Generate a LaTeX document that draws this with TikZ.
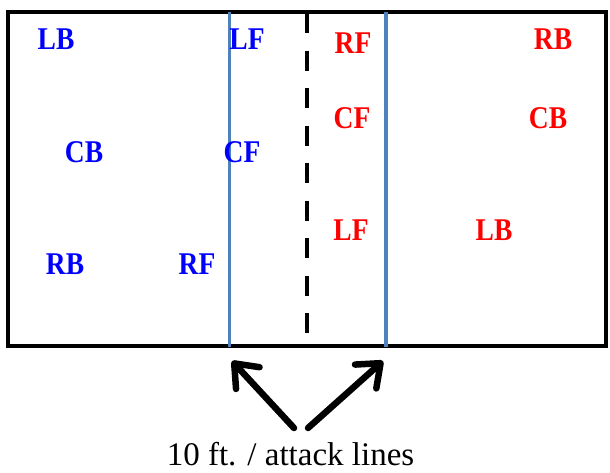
\documentclass[tikz,border=0pt]{standalone}
\usepackage{fontspec}
\setmainfont{Liberation Serif}
\usetikzlibrary{arrows.meta}
\definecolor{courtblue}{HTML}{4F81BD}
\definecolor{teamblue}{HTML}{0000FF}
\definecolor{teamred}{HTML}{FF0000}
\newcommand\poslbl[1]{\scalebox{1}[1.15]{#1}}
\tikzset{
  court/.style={line width=4pt, draw=black},
  attackline/.style={line width=3.5pt, draw=courtblue},
  netline/.style={line width=4.5pt, draw=black, dash pattern=on 20pt off 17.5pt},
  bluepos/.style={text=teamblue, inner sep=0pt, font=\bfseries\fontsize{27.5}{27.5}\selectfont},
  redpos/.style={text=teamred, inner sep=0pt, font=\bfseries\fontsize{27.5}{27.5}\selectfont},
  pointer/.style={line width=6.5pt, draw=black, line cap=round,
    -{Straight Barb[length=20pt, width=32pt, line width=6.5pt, round]}},
  caption/.style={inner sep=0pt, font=\fontsize{33}{33}\selectfont}
}
\begin{document}
\begin{tikzpicture}[x=1pt, y=-1pt]
\useasboundingbox (0,0) rectangle (610,472);
% court
\draw[court] (8,12) rectangle (605.5,345.5);
% net (dashed centre line)
\coordinate (netT) at (307,13);
\coordinate (netB) at (307,333);
\draw[netline] (netT) -- (netB);
% attack lines
\coordinate (alT) at (229.5,12);
\coordinate (alB) at (229.5,347);
\coordinate (arT) at (386,12);
\coordinate (arB) at (386,347);
\draw[attackline] (alT) -- (alB);
\draw[attackline] (arT) -- (arB);
% blue team
\node[bluepos] (bLB) at (56,39) {\poslbl{LB}};
\node[bluepos] (bLF) at (247,39) {\poslbl{LF}};
\node[bluepos] (bCB) at (84,152) {\poslbl{CB}};
\node[bluepos] (bCF) at (242,152) {\poslbl{CF}};
\node[bluepos] (bRB) at (65,264) {\poslbl{RB}};
\node[bluepos] (bRF) at (197,264) {\poslbl{RF}};
% red team
\node[redpos] (rRF) at (353,43) {\poslbl{RF}};
\node[redpos] (rRB) at (553,39) {\poslbl{RB}};
\node[redpos] (rCF) at (352,118) {\poslbl{CF}};
\node[redpos] (rCB) at (548,118) {\poslbl{CB}};
\node[redpos] (rLF) at (351,230) {\poslbl{LF}};
\node[redpos] (rLB) at (494,230) {\poslbl{LB}};
% caption and arrows
\node[caption, anchor=base] (cap) at (290.5,465) {10 ft. / attack lines};
\coordinate (tailL) at (294,428);
\coordinate (tailR) at (308,428);
\coordinate (tipL) at (232,361);
\coordinate (tipR) at (383,361);
\draw[pointer] (tailL) -- (tipL);
\draw[pointer] (tailR) -- (tipR);
\end{tikzpicture}
\end{document}
